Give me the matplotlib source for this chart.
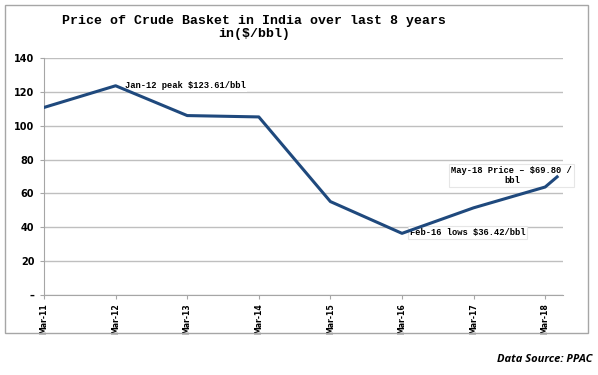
# Price of Crude Basket in India over last 8 years

import matplotlib.pyplot as plt
from matplotlib.patches import Rectangle
from matplotlib.ticker import FuncFormatter

# months counted from Mar-11
months = [0, 12, 24, 36, 48, 60, 72, 84, 86]
price = [110.8, 123.61, 106.0, 105.2, 55.2, 36.42, 51.5, 63.8, 69.80]
tick_months = [0, 12, 24, 36, 48, 60, 72, 84]
tick_labels = ['Mar-11', 'Mar-12', 'Mar-13', 'Mar-14', 'Mar-15', 'Mar-16', 'Mar-17', 'Mar-18']

fig = plt.figure(figsize=(5.98, 3.75), dpi=100)
fig.patch.set_facecolor('white')

# outer chart border
fig.add_artist(Rectangle((5 / 598, 1 - 333 / 375), 583 / 598, 328 / 375,
                         transform=fig.transFigure, fill=False,
                         edgecolor='#a6a6a6', linewidth=1))

ax = fig.add_axes([0.0736, 0.2133, 0.868, 0.632])
ax.plot(months, price, color='#1f497d', linewidth=2.2, zorder=5)

ax.set_xlim(0, 87)
ax.set_ylim(0, 140)
ax.set_yticks(range(0, 141, 20))
ax.yaxis.set_major_formatter(FuncFormatter(lambda v, p: '–' if v == 0 else '%d' % v))
ax.set_xticks(tick_months)
ax.set_xticklabels(tick_labels, rotation=90, fontsize=5.6, fontweight='bold',
                   family='DejaVu Sans')
for lab in ax.get_yticklabels():
    lab.set_fontsize(7)
    lab.set_fontweight('bold')

ax.grid(axis='y', color='#bfbfbf', linewidth=1)
ax.set_axisbelow(True)
for s in ['top', 'right']:
    ax.spines[s].set_visible(False)
for s in ['left', 'bottom']:
    ax.spines[s].set_color('#a6a6a6')
ax.tick_params(axis='both', colors='#a6a6a6', length=3, labelcolor='black')
ax.tick_params(axis='y', pad=4)
ax.tick_params(axis='x', pad=3)

# title
fig.text(0.425, 0.96, 'Price of Crude Basket in India over last 8 years\nin($/bbl)',
         ha='center', va='top', fontsize=9.5, fontweight='bold',
         family='Liberation Mono', linespacing=1.1)

# annotations
ann = dict(fontsize=6.3, fontweight='bold', family='Liberation Mono', zorder=4)
ax.text(13.6, 123.5, 'Jan-12 peak $123.61/bbl', ha='left', va='center',
        bbox=dict(facecolor='white', edgecolor='none', pad=1), **ann)
ax.text(61.3, 36.9, 'Feb-16 lows $36.42/bbl', ha='left', va='center',
        bbox=dict(facecolor='white', edgecolor='#e6e6e6', pad=1.5, linewidth=0.8), **ann)
ax.text(78.4, 70.6, 'May-18 Price – $69.80 /\nbbl', ha='center', va='center',
        linespacing=1.1,
        bbox=dict(facecolor='white', edgecolor='#e6e6e6', pad=1.5, linewidth=0.8), **ann)

fig.text(0.99, 0.027, 'Data Source: PPAC', ha='right', va='bottom', fontsize=8,
         fontweight='bold', fontstyle='italic', family='Open Sans')

fig.savefig('out.png', dpi=100)
